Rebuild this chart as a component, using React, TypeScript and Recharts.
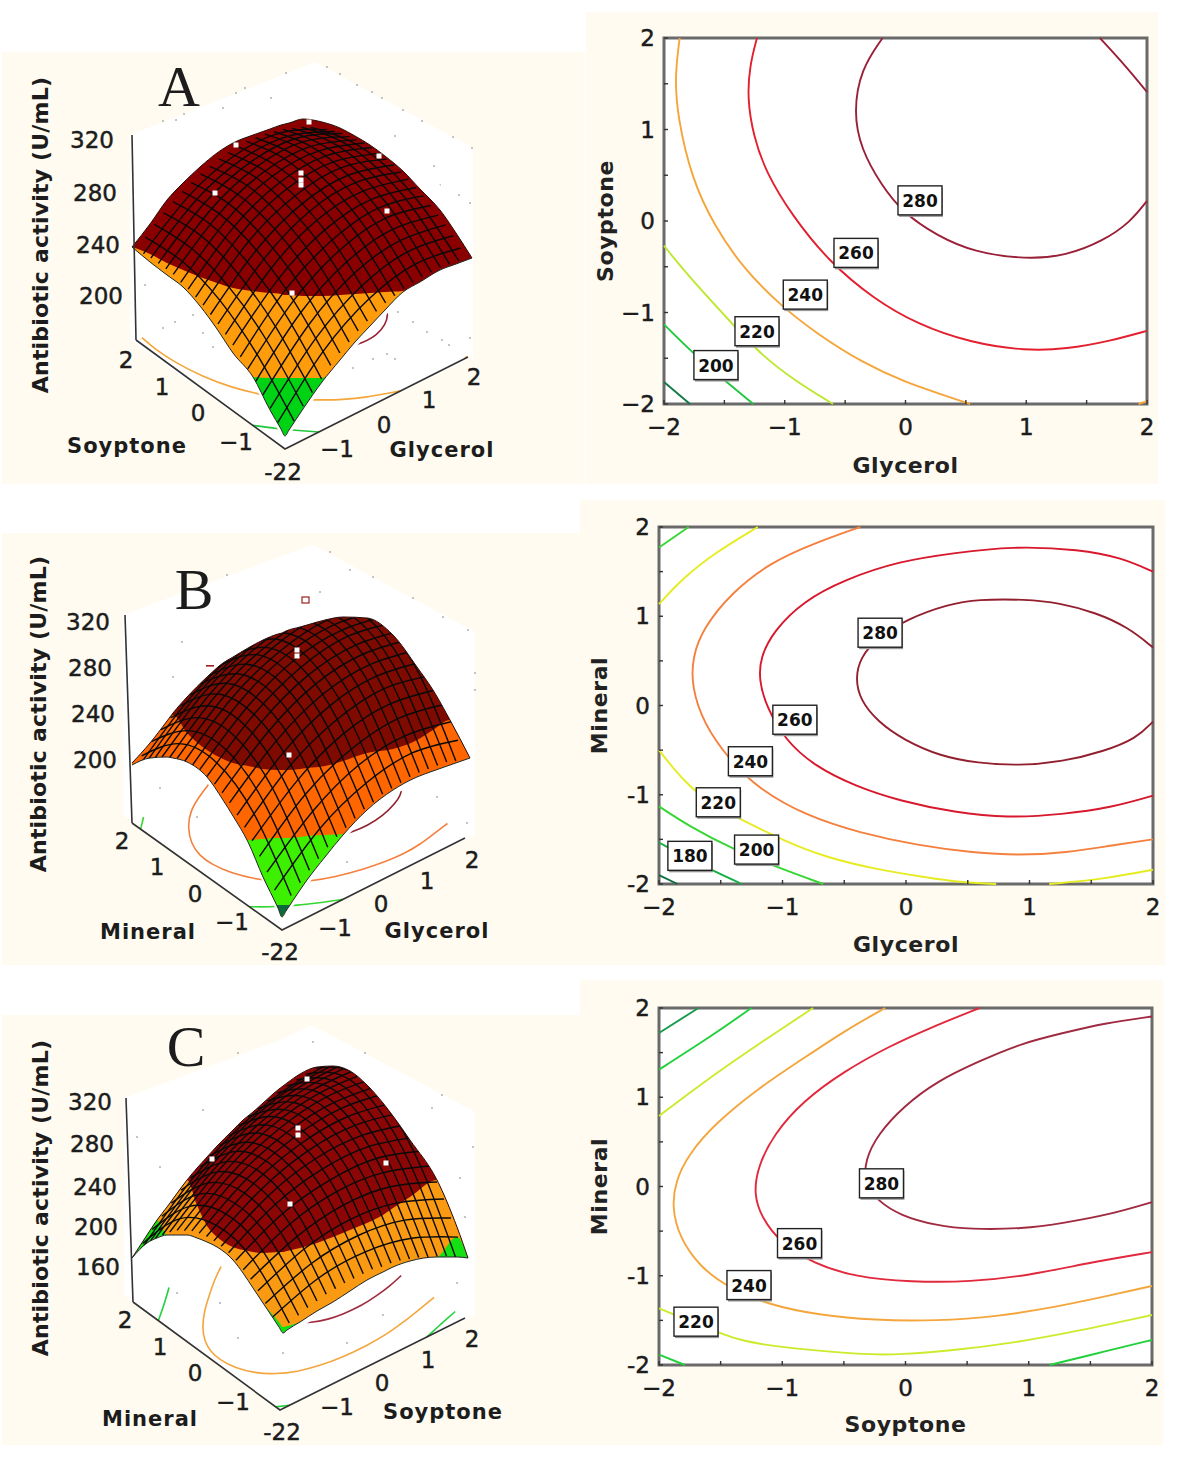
import React from "react";
import {
  Area,
  ComposedChart,
  Line,
  ReferenceArea,
  ReferenceDot,
  Scatter,
  XAxis,
  YAxis,
} from "recharts";

type Pt = [number, number];

const FONT = '"DejaVu Sans", sans-serif';
const CREAM = "#FFFBF0";

// ---- contour lines (factor units) ----
const A_CONTOURS: { level: number; pts: Pt[] }[] = [
  { level: 280, pts: [[-0.19, 2], [-0.37, 1.66], [-0.43, 1.19], [-0.37, 0.79], [-0.2, 0.39], [-0.02, 0.09], [0.26, -0.16], [0.565, -0.34], [1, -0.42], [1.33, -0.38], [1.64, -0.215], [1.86, -0.015], [2, 0.22]] },
  { level: 280, pts: [[1.61, 2], [1.82, 1.7], [2, 1.41]] },
  { level: 260, pts: [[-1.23, 2], [-1.29, 1.7], [-1.31, 1.34], [-1.26, 0.93], [-1.155, 0.53], [-0.94, 0.06], [-0.63, -0.45], [-0.264, -0.85], [0.1, -1.13], [0.535, -1.33], [1, -1.42], [1.33, -1.4], [1.7, -1.31], [2, -1.2]] },
  { level: 240, pts: [[-1.87, 2], [-1.91, 1.59], [-1.89, 1.15], [-1.77, 0.46], [-1.585, -0.05], [-1.34, -0.525], [-1.03, -0.93], [-0.725, -1.24], [-0.356, -1.55], [0.012, -1.77], [0.29, -1.89], [0.535, -2]] },
  { level: 240, pts: [[1.93, -2], [2, -1.97]] },
  { level: 220, pts: [[-2, -0.27], [-1.8, -0.6], [-1.43, -1.13], [-1.19, -1.47], [-0.91, -1.75], [-0.6, -2]] },
  { level: 200, pts: [[-2, -1.13], [-1.74, -1.47], [-1.49, -1.75], [-1.26, -2]] },
  { level: 180, pts: [[-2, -1.76], [-1.785, -2]] },
];
const B_CONTOURS: { level: number; pts: Pt[] }[] = [
  { level: 280, pts: [[2, 0.65], [1.8, 0.875], [1.54, 1.04], [1.24, 1.15], [0.97, 1.19], [0.58, 1.19], [0.34, 1.135], [0.01, 0.97], [-0.23, 0.76], [-0.37, 0.54], [-0.41, 0.3], [-0.37, 0.06], [-0.23, -0.18], [-0.02, -0.385], [0.28, -0.57], [0.58, -0.645], [0.91, -0.675], [1.27, -0.63], [1.6, -0.515], [1.865, -0.37], [2, -0.18]] },
  { level: 260, pts: [[2, 1.5], [1.745, 1.655], [1.415, 1.75], [0.85, 1.785], [0.4, 1.71], [-0.05, 1.62], [-0.5, 1.41], [-0.83, 1.17], [-1.07, 0.84], [-1.18, 0.54], [-1.19, 0.28], [-1.13, -0.015], [-0.98, -0.385], [-0.74, -0.68], [-0.41, -0.905], [-0.05, -1.07], [0.4, -1.2], [0.82, -1.26], [1.27, -1.22], [1.66, -1.145], [2, -1.01]] },
  { level: 240, pts: [[-0.37, 2], [-0.74, 1.82], [-1.1, 1.6], [-1.4, 1.28], [-1.64, 0.875], [-1.73, 0.54], [-1.735, 0.21], [-1.64, -0.2], [-1.43, -0.61], [-1.19, -0.94], [-0.8, -1.24], [-0.38, -1.425], [0.1, -1.57], [0.55, -1.65], [0.91, -1.68], [1.3, -1.65], [1.655, -1.57], [2, -1.5]] },
  { level: 220, pts: [[-1.2, 2], [-1.55, 1.71], [-1.82, 1.41], [-2, 1.135]] },
  { level: 220, pts: [[-2, -0.5], [-1.79, -0.87], [-1.55, -1.13], [-1.28, -1.315], [-0.98, -1.52], [-0.65, -1.7], [-0.26, -1.83], [0.16, -1.925], [0.43, -1.98], [0.73, -2]] },
  { level: 220, pts: [[1.16, -2], [1.6, -1.945], [2, -1.84]] },
  { level: 200, pts: [[-1.76, 2], [-2, 1.77]] },
  { level: 200, pts: [[-2, -1.13], [-1.76, -1.35], [-1.4, -1.61], [-1.04, -1.815], [-0.67, -2]] },
  { level: 180, pts: [[-2, -1.535], [-1.7, -1.76], [-1.33, -2]] },
  { level: 160, pts: [[-2, -1.9], [-1.85, -2]] },
];
const C_CONTOURS: { level: number; pts: Pt[] }[] = [
  { level: 280, pts: [[2, 1.905], [1.61, 1.83], [1.28, 1.72], [0.95, 1.61], [0.59, 1.4], [0.255, 1.18], [-0.015, 0.9], [-0.225, 0.585], [-0.33, 0.29], [-0.33, 0.03], [-0.225, -0.16], [-0.045, -0.325], [0.255, -0.44], [0.525, -0.48], [0.95, -0.475], [1.28, -0.41], [1.67, -0.31], [2, -0.175]] },
  { level: 260, pts: [[0.6, 2], [0.195, 1.775], [-0.135, 1.57], [-0.5, 1.29], [-0.83, 0.96], [-1.07, 0.585], [-1.2, 0.215], [-1.23, -0.085], [-1.17, -0.345], [-1.01, -0.64], [-0.74, -0.865], [-0.41, -1.015], [0.045, -1.07], [0.525, -1.07], [1.01, -0.995], [1.52, -0.845], [2, -0.735]] },
  { level: 240, pts: [[-0.165, 2], [-0.5, 1.74], [-0.86, 1.405], [-1.19, 1.105], [-1.55, 0.7], [-1.76, 0.36], [-1.865, 0.065], [-1.895, -0.23], [-1.835, -0.57], [-1.67, -0.9], [-1.43, -1.14], [-1.1, -1.33], [-0.705, -1.44], [-0.255, -1.5], [0.255, -1.505], [0.735, -1.46], [1.22, -1.35], [1.61, -1.235], [2, -1.115]] },
  { level: 220, pts: [[-0.75, 2], [-1.1, 1.68], [-1.4, 1.4], [-1.7, 1.105], [-2, 0.79]] },
  { level: 220, pts: [[-2, -1.365], [-1.7, -1.535], [-1.34, -1.74], [-0.95, -1.81], [-0.345, -1.885], [-0.045, -1.885], [0.435, -1.83], [0.855, -1.755], [1.31, -1.645], [2, -1.44]] },
  { level: 200, pts: [[-1.25, 2], [-1.58, 1.68], [-2, 1.31]] },
  { level: 200, pts: [[1.17, -2], [1.61, -1.85], [2, -1.72]] },
  { level: 200, pts: [[-2, -1.885], [-1.79, -2]] },
  { level: 180, pts: [[-1.68, 2], [-2, 1.72]] },
];

const A_LABELS: [number, number, number][] = [[280, 0.12, 0.22], [260, -0.41, -0.354], [240, -0.83, -0.81], [220, -1.23, -1.21], [200, -1.57, -1.58]];
const B_LABELS: [number, number, number][] = [[280, -0.21, 0.81], [260, -0.9, -0.165], [240, -1.26, -0.63], [220, -1.52, -1.09], [200, -1.21, -1.62], [180, -1.75, -1.69]];
const C_LABELS: [number, number, number][] = [[280, -0.195, 0.03], [260, -0.86, -0.64], [240, -1.27, -1.11], [220, -1.7, -1.52]];

const AXIS_TICKS = [-2, -1.5, -1, -0.5, 0, 0.5, 1, 1.5, 2];

// ---- response surfaces: activity (U/mL) along the mesh lines ----
const MESH_STEPS = [-1.8, -1.6, -1.4, -1.2, -1, -0.8, -0.6, -0.4, -0.2, 0, 0.2, 0.4, 0.6, 0.8, 1, 1.2, 1.4, 1.6, 1.8];
const MESH_NODES = [-2, -1, 0, 1, 2];

const A_ALONG_SECOND = [
  [181, 212, 233, 242, 240], [189, 220, 240, 249, 247], [196, 227, 247, 256, 253], [203, 234, 253, 262, 259],
  [210, 240, 259, 267, 264], [216, 246, 264, 272, 268], [221, 251, 269, 276, 272], [226, 255, 273, 280, 275],
  [230, 259, 276, 283, 278], [234, 262, 279, 285, 280], [237, 265, 282, 287, 282], [239, 267, 283, 289, 283],
  [241, 268, 284, 289, 283], [242, 269, 285, 290, 283], [243, 270, 285, 289, 282], [243, 270, 285, 288, 281],
  [243, 269, 284, 287, 279], [242, 268, 282, 285, 277], [241, 266, 280, 282, 274],
];
const A_ALONG_FIRST = [
  [179, 217, 240, 249, 244], [186, 223, 246, 255, 250], [192, 229, 252, 260, 255], [198, 235, 257, 265, 259],
  [204, 240, 262, 270, 263], [209, 245, 266, 274, 267], [214, 249, 270, 277, 270], [218, 253, 274, 280, 273],
  [222, 256, 277, 283, 275], [225, 259, 279, 285, 277], [228, 262, 281, 287, 278], [230, 264, 283, 288, 279],
  [232, 265, 284, 289, 280], [233, 266, 285, 289, 280], [235, 267, 285, 289, 279], [235, 267, 285, 289, 278],
  [235, 267, 284, 288, 277], [235, 266, 283, 286, 275], [234, 265, 282, 285, 273],
];
const B_ALONG_SECOND = [
  [171, 219, 240, 233, 199], [178, 226, 247, 240, 207], [185, 233, 254, 247, 213], [191, 239, 260, 253, 219],
  [197, 245, 265, 259, 225], [202, 250, 270, 264, 230], [206, 254, 275, 268, 235], [210, 258, 279, 272, 238],
  [214, 261, 282, 276, 242], [216, 264, 285, 278, 245], [219, 266, 287, 281, 247], [220, 268, 289, 282, 249],
  [221, 269, 290, 283, 250], [222, 270, 291, 284, 250], [222, 270, 291, 284, 250], [221, 269, 290, 283, 250],
  [220, 268, 289, 282, 249], [219, 266, 287, 281, 247], [216, 264, 285, 278, 245],
];
const B_ALONG_FIRST = [
  [175, 209, 228, 234, 225], [186, 219, 239, 244, 236], [195, 229, 248, 254, 246], [204, 237, 257, 262, 254],
  [211, 245, 264, 270, 261], [217, 251, 271, 276, 268], [223, 256, 276, 281, 273], [227, 260, 280, 285, 277],
  [230, 263, 283, 288, 280], [232, 265, 285, 291, 282], [233, 266, 286, 291, 283], [232, 266, 286, 291, 283],
  [231, 265, 284, 290, 281], [229, 262, 282, 288, 279], [225, 259, 278, 284, 276], [221, 254, 274, 279, 271],
  [215, 249, 268, 274, 265], [208, 242, 261, 267, 259], [200, 234, 254, 259, 251],
];
const C_ALONG_SECOND = [
  [199, 235, 242, 222, 172], [202, 240, 249, 230, 182], [205, 244, 255, 238, 191], [207, 248, 261, 245, 200],
  [209, 252, 266, 252, 209], [210, 255, 271, 258, 217], [211, 257, 275, 264, 224], [211, 259, 278, 269, 231],
  [211, 261, 281, 274, 237], [211, 262, 284, 278, 243], [209, 262, 286, 282, 249], [208, 262, 288, 285, 254],
  [206, 262, 289, 288, 258], [203, 261, 290, 290, 262], [200, 259, 290, 292, 266], [196, 257, 290, 294, 269],
  [192, 255, 289, 294, 271], [188, 252, 288, 295, 273], [182, 248, 286, 295, 275],
];
const C_ALONG_FIRST = [
  [204, 220, 223, 214, 193], [212, 229, 234, 227, 207], [219, 238, 245, 239, 221], [225, 245, 254, 250, 233],
  [229, 252, 262, 259, 244], [233, 257, 268, 268, 254], [235, 261, 274, 275, 263], [236, 264, 279, 281, 271],
  [236, 265, 282, 286, 278], [235, 266, 284, 290, 283], [233, 265, 285, 293, 288], [230, 264, 285, 294, 291],
  [225, 261, 284, 295, 293], [220, 257, 282, 294, 294], [213, 252, 278, 292, 294], [205, 245, 273, 289, 293],
  [196, 238, 268, 285, 290], [185, 229, 261, 280, 286], [174, 220, 253, 273, 282],
];

// ---- outlines and colour zones of the surfaces as seen in the picture ----
const A_X = [132, 150, 167, 183, 200, 217, 233, 253, 270, 281, 285, 289, 303, 322, 340, 355, 370, 385, 403, 420, 440, 456, 472];
const A_TOP = [247, 224, 200, 183, 167, 153, 143, 135, 129, 125, 124, 123, 119, 122, 128, 136, 145, 156, 171, 189, 210, 233, 258];
const A_BOTTOM = [247, 262, 275, 287, 306, 329, 353, 377, 410, 429, 436, 430, 409, 382, 360, 342, 326, 310, 292, 282, 270, 264, 258];
const A_RED = [247, 254, 263, 270, 277, 283, 288, 291, 293, 294, 295, 295, 296, 296, 295, 294, 293, 292, 291, 291, 291, 291, 291];
const A_MID = [378, 378, 378, 378, 378, 378, 378, 378, 378, 378, 378, 378, 378, 378, 378, 378, 378, 378, 378, 378, 378, 378, 378];

const B_X = [132, 150, 167, 173, 187, 207, 223, 233, 248, 263, 278, 282, 286, 300, 307, 325, 343, 367, 393, 417, 433, 450, 470];
const B_TOP = [763, 743, 721, 713, 697, 677, 663, 657, 648, 640, 634, 633, 631, 627, 625, 620, 617, 618, 635, 667, 690, 720, 758];
const B_BOTTOM = [765, 758, 757, 758, 762, 777, 800, 816, 842, 877, 908, 917, 911, 890, 880, 857, 835, 810, 790, 777, 771, 765, 758];
const B_RED = [763, 743, 721, 715, 733, 750, 759, 763, 766, 769, 770, 770, 770, 769, 768, 766, 761, 753, 749, 740, 730, 720, 758];
const B_MID = [840, 840, 840, 840, 840, 840, 840, 840, 840, 839, 838, 838, 838, 837, 836, 835, 834, 834, 834, 834, 834, 834, 834];
const B_TIP: { x: number; lo: number; hi: number }[] = [{ x: 276, lo: 905, hi: 905 }, { x: 282, lo: 917, hi: 905 }, { x: 290, lo: 905, hi: 905 }];

const C_X = [132, 147, 157, 167, 187, 197, 207, 217, 233, 243, 253, 263, 279, 283, 287, 300, 317, 333, 350, 367, 383, 393, 410, 437, 457, 468];
const C_TOP = [1258, 1235, 1220, 1207, 1180, 1168, 1157, 1146, 1130, 1120, 1112, 1103, 1089, 1086, 1083, 1074, 1067, 1066, 1071, 1085, 1103, 1116, 1140, 1180, 1227, 1258];
const C_BOTTOM = [1258, 1243, 1238, 1235, 1235, 1238, 1242, 1247, 1260, 1273, 1288, 1303, 1327, 1333, 1330, 1322, 1311, 1302, 1291, 1280, 1272, 1267, 1261, 1257, 1257, 1258];
const C_RED = [1258, 1235, 1220, 1207, 1180, 1205, 1226, 1237, 1247, 1250, 1252, 1253, 1252, 1252, 1251, 1248, 1243, 1237, 1230, 1223, 1215, 1208, 1197, 1180, 1227, 1258];
const C_MID = [1258, 1235, 1220, 1235, 1235, 1238, 1242, 1247, 1260, 1273, 1288, 1303, 1322, 1327, 1326, 1322, 1311, 1302, 1291, 1280, 1272, 1267, 1261, 1257, 1237, 1258];

const A_WALL = [{ x: 130, lo: 340, hi: 135 }, { x: 285, lo: 449, hi: 74 }, { x: 315, lo: 434, hi: 62 }, { x: 473, lo: 357, hi: 148 }];
const B_WALL = [{ x: 123, lo: 815, hi: 615 }, { x: 282, lo: 930, hi: 556 }, { x: 313, lo: 915, hi: 545 }, { x: 475, lo: 835, hi: 632 }];
const C_WALL = [{ x: 124, lo: 1295, hi: 1098 }, { x: 280, lo: 1410, hi: 1040 }, { x: 312, lo: 1395, hi: 1025 }, { x: 475, lo: 1315, hi: 1112 }];

const A_POINTS: Pt[] = [[236, 145], [215, 193], [309, 122], [301, 173], [301, 180], [301, 185], [379, 156], [387, 211], [292, 293]];
const B_POINTS: Pt[] = [[297, 650], [297, 656], [289, 755]];
const C_POINTS: Pt[] = [[307, 1079], [298, 1128], [298, 1135], [212, 1159], [386, 1163], [290, 1204]];

// faint dots of the box grid
const A_SPECKS: Pt[] = [[163, 121], [176, 120], [184, 114], [223, 108], [236, 93], [245, 88], [271, 98], [286, 73], [315, 97], [315, 105], [327, 67], [340, 74], [357, 85], [372, 92], [382, 98], [403, 110], [422, 121], [395, 136], [453, 137], [472, 148], [434, 166], [440, 185], [459, 195], [470, 203], [145, 285], [163, 328], [175, 322], [193, 315], [203, 333], [213, 347], [398, 312], [413, 322], [427, 332], [442, 340], [449, 345], [470, 338], [353, 368], [373, 359], [387, 354], [395, 359]];
const B_SPECKS: Pt[] = [[227, 575], [320, 592], [330, 552], [350, 570], [373, 577], [413, 598], [443, 617], [468, 630], [475, 673], [475, 690], [465, 737], [437, 797], [347, 862], [467, 823], [197, 817], [160, 788], [173, 677], [182, 642]];
const C_SPECKS: Pt[] = [[203, 1110], [238, 1053], [257, 1088], [313, 1042], [365, 1053], [383, 1087], [432, 1108], [442, 1095], [473, 1147], [460, 1178], [465, 1217], [457, 1283], [383, 1315], [347, 1343], [238, 1338], [283, 1353], [137, 1137], [160, 1167], [177, 1293], [220, 1303]];

type Cam = {
  near: Pt; left: Pt; right: Pt; back: Pt; k: number; z0: number;
};
const A_CAM: Cam = { near: [285, 449], left: [136, 340], right: [468, 357], back: [320, 267], k: 1.29, z0: 163 };
const B_CAM: Cam = { near: [282, 930], left: [132, 823], right: [465, 838], back: [325, 722], k: 1.15, z0: 145 };
const C_CAM: Cam = { near: [280, 1410], left: [133, 1302], right: [465, 1318], back: [325, 1225], k: 1.03, z0: 119 };

// oblique view used by the statistics package: factor, factor, activity -> picture
function project(cam: Cam, a: number, b: number, z: number) {
  const u = (a + 2) / 4;
  const v = (b + 2) / 4;
  const mix = (i: 0 | 1) =>
    (1 - u) * (1 - v) * cam.near[i] + u * (1 - v) * cam.right[i] + (1 - u) * v * cam.left[i] + u * v * cam.back[i];
  return { x: mix(0), y: mix(1) - cam.k * (z - cam.z0) };
}

function levelColor(level: number, tint: Record<number, string>) {
  return tint[level] || "#888";
}

const A_TINT: Record<number, string> = { 280: "#9A2038", 260: "#E2202F", 240: "#F5A53A", 220: "#BDE82E", 200: "#22C83C", 180: "#117A46" };
const B_TINT: Record<number, string> = { 280: "#93202F", 260: "#D8182C", 240: "#F4803E", 220: "#E6EC22", 200: "#38D632", 180: "#14B044", 160: "#0E6E40" };
const C_TINT: Record<number, string> = { 280: "#A02A40", 260: "#E2283C", 240: "#F4A63E", 220: "#CBEB2C", 200: "#22D03C", 180: "#1A9A4C" };

function say(key: string, x: number, y: number, text: string, size = 23, weight: any = "normal", rotate = 0, family = FONT, spacing = 0) {
  const heavy = family === FONT && weight === "normal";
  return (
    <ReferenceDot
      key={key}
      x={x}
      y={y}
      r={0}
      fill="none"
      stroke="none"
      ifOverflow="visible"
      shape={(p: any) => (
        <text
          x={p.cx}
          y={p.cy}
          textAnchor="middle"
          dominantBaseline="central"
          fontFamily={family}
          fontSize={size}
          fontWeight={weight}
          letterSpacing={spacing}
          fill="#1c1c1c"
          stroke={heavy ? "#1c1c1c" : "none"}
          strokeWidth={heavy ? 0.45 : 0}
          transform={rotate ? `rotate(${rotate} ${p.cx} ${p.cy})` : undefined}
        >
          {text}
        </text>
      )}
    />
  );
}

function bandOf(xs: number[], lo: number[], hi: number[]) {
  return xs.map((x, i) => ({ x, band: [lo[i], hi[i]] }));
}

type SurfaceProps = {
  top: number; height: number; cam: Cam; wall: { x: number; lo: number; hi: number }[];
  contours: { level: number; pts: Pt[] }[]; tint: Record<number, string>;
  alongSecond: number[][]; alongFirst: number[][];
  xs: number[]; tops: number[]; bottoms: number[]; reds: number[]; mids: number[];
  colors: { red: string; orange: string; green: string }; tip?: { x: number; lo: number; hi: number }[];
  points: Pt[]; specks: Pt[]; words: React.ReactNode[]; marks?: React.ReactNode[];
};

function Surface(p: SurfaceProps) {
  const floorLevels = p.contours.filter((c) => c.level === 200 || c.level === 240 || c.level === 280);
  const near = p.cam.near;
  return (
    <ComposedChart width={585} height={p.height} margin={{ top: 0, right: 0, bottom: 0, left: 0 }} style={{ position: "absolute", left: 0, top: p.top }}>
      <XAxis dataKey="x" type="number" domain={[0, 585]} hide />
      <YAxis dataKey="y" type="number" domain={[p.top, p.top + p.height]} reversed hide />

      <Area data={p.wall.map((w) => ({ x: w.x, band: [w.lo, w.hi] }))} dataKey="band" type="linear" stroke="none" fill="#fff" fillOpacity={1} isAnimationActive={false} dot={false} activeDot={false} {...{ zIndex: 10 }} />
      <Scatter
        data={p.specks.map(([x, y]) => ({ x, y }))}
        dataKey="y"
        isAnimationActive={false}
        {...{ zIndex: 15 }}
        shape={(s: any) => <rect x={s.cx - 1} y={s.cy - 1} width={2} height={2} fill="#c4c4c4" />}
      />
      {floorLevels.map((c, i) => (
        <Line key={"floor" + i} data={c.pts.map(([a, b]) => project(p.cam, a, b, p.cam.z0))} dataKey="y" type="basis" stroke={levelColor(c.level, p.tint)} strokeWidth={1.6} dot={false} activeDot={false} isAnimationActive={false} {...{ zIndex: 20 }} />
      ))}

      <Area data={bandOf(p.xs, p.bottoms, p.tops)} dataKey="band" type="monotone" stroke="none" fill={p.colors.green} fillOpacity={1} isAnimationActive={false} dot={false} activeDot={false} {...{ zIndex: 100 }} />
      <Area data={bandOf(p.xs, p.mids.map((m, i) => Math.min(m, p.bottoms[i])), p.tops)} dataKey="band" type="monotone" stroke="none" fill={p.colors.orange} fillOpacity={1} isAnimationActive={false} dot={false} activeDot={false} {...{ zIndex: 101 }} />
      <Area data={bandOf(p.xs, p.reds.map((m, i) => Math.min(m, p.bottoms[i])), p.tops)} dataKey="band" type="monotone" stroke="none" fill={p.colors.red} fillOpacity={1} isAnimationActive={false} dot={false} activeDot={false} {...{ zIndex: 102 }} />
      {p.tip && (
        <Area data={p.tip.map((w) => ({ x: w.x, band: [w.lo, w.hi] }))} dataKey="band" type="linear" stroke="none" fill="#0B6B3A" fillOpacity={1} isAnimationActive={false} dot={false} activeDot={false} {...{ zIndex: 103 }} />
      )}

      {p.alongSecond.map((row, i) => (
        <Line key={"ms" + i} data={row.map((z, k) => project(p.cam, MESH_STEPS[i], MESH_NODES[k], z))} dataKey="y" type="natural" stroke="#0a0a0a" strokeWidth={1.4} dot={false} activeDot={false} isAnimationActive={false} />
      ))}
      {p.alongFirst.map((row, i) => (
        <Line key={"mf" + i} data={row.map((z, k) => project(p.cam, MESH_NODES[k], MESH_STEPS[i], z))} dataKey="y" type="natural" stroke="#0a0a0a" strokeWidth={1.4} dot={false} activeDot={false} isAnimationActive={false} />
      ))}

      {/* white masks so mesh lines stop at the visible edge of the surface */}
      <Area data={bandOf(p.xs, p.tops, p.tops.map((t) => t - 25))} dataKey="band" type="monotone" stroke="none" fill="#fff" fillOpacity={1} isAnimationActive={false} dot={false} activeDot={false} {...{ zIndex: 450 }} />
      <Area data={bandOf(p.xs, p.bottoms.map((t) => t + 6), p.bottoms)} dataKey="band" type="monotone" stroke="none" fill="#fff" fillOpacity={1} isAnimationActive={false} dot={false} activeDot={false} {...{ zIndex: 451 }} />
      <Line data={p.xs.map((x, i) => ({ x, y: p.tops[i] }))} dataKey="y" type="monotone" stroke="#2a0a0a" strokeWidth={1} dot={false} activeDot={false} isAnimationActive={false} {...{ zIndex: 460 }} />
      <Line data={p.xs.map((x, i) => ({ x, y: p.bottoms[i] }))} dataKey="y" type="monotone" stroke="#222" strokeWidth={1} dot={false} activeDot={false} isAnimationActive={false} {...{ zIndex: 461 }} />

      {/* axes of the box */}
      <Line data={[{ x: p.wall[0].x + 2, y: p.wall[0].hi }, { x: p.cam.left[0], y: p.cam.left[1] }]} dataKey="y" type="linear" stroke="#333" strokeWidth={1.6} dot={false} activeDot={false} isAnimationActive={false} {...{ zIndex: 470 }} />
      <Line data={[{ x: p.cam.left[0], y: p.cam.left[1] }, { x: near[0], y: near[1] }, { x: p.cam.right[0], y: p.cam.right[1] }]} dataKey="y" type="linear" stroke="#333" strokeWidth={1.6} dot={false} activeDot={false} isAnimationActive={false} {...{ zIndex: 471 }} />

      <Scatter
        data={p.points.map(([x, y]) => ({ x, y }))}
        dataKey="y"
        isAnimationActive={false}
        shape={(s: any) => <rect x={s.cx - 2.5} y={s.cy - 2.5} width={5} height={5} fill="#fff" />}
      />
      {p.marks}
      {p.words}
    </ComposedChart>
  );
}

type ContourProps = {
  left: number; top: number; width: number; height: number; yWidth: number; right: number; upper: number; xHeight: number;
  contours: { level: number; pts: Pt[] }[]; tint: Record<number, string>; labels: [number, number, number][];
  xName: string; yName: string; xTitleOffset: number; yDash: string;
};

function XTick({ x, y, payload, inward, showText }: any) {
  const v = payload.value;
  return (
    <g>
      <line x1={x} x2={x} y1={y} y2={y + inward} stroke="#333" strokeWidth={1.4} />
      {showText && Number.isInteger(v) && (
        <text x={x} y={y + 23} textAnchor="middle" dominantBaseline="central" fontFamily={FONT} fontSize={23} fill="#1c1c1c" stroke="#1c1c1c" strokeWidth={0.45}>
          {String(v).replace("-", "\u2212")}
        </text>
      )}
    </g>
  );
}

function YTick({ x, y, payload, inward, showText, dash }: any) {
  const v = payload.value;
  return (
    <g>
      <line x1={x} x2={x + inward} y1={y} y2={y} stroke="#333" strokeWidth={1.4} />
      {showText && Number.isInteger(v) && (
        <text x={x - 9} y={y} textAnchor="end" dominantBaseline="central" fontFamily={FONT} fontSize={23} fill="#1c1c1c" stroke="#1c1c1c" strokeWidth={0.45}>
          {String(v).replace("-", dash)}
        </text>
      )}
    </g>
  );
}

function Contour(p: ContourProps) {
  const titleStyle = { fontFamily: FONT, fontSize: 22, fontWeight: 700, fill: "#222", letterSpacing: 0.6 };
  return (
    <ComposedChart
      width={p.width}
      height={p.height}
      margin={{ top: p.upper, right: p.right, bottom: 0, left: 0 }}
      style={{ position: "absolute", left: p.left, top: p.top }}
    >
      <XAxis
        dataKey="x"
        type="number"
        domain={[-2, 2]}
        ticks={AXIS_TICKS}
        interval={0}
        height={p.xHeight}
        axisLine={false}
        tickLine={false}
        tickSize={0}
        tickMargin={0}
        tick={(t: any) => <XTick {...t} inward={-4} showText />}
        label={{ value: p.xName, position: "insideBottom", offset: p.xTitleOffset, style: titleStyle }}
      />
      <XAxis xAxisId="t" orientation="top" dataKey="x" type="number" domain={[-2, 2]} ticks={AXIS_TICKS} interval={0} height={0} axisLine={false} tickLine={false} tickSize={0} tickMargin={0} tick={(t: any) => <XTick {...t} inward={4} />} />
      <YAxis
        dataKey="y"
        type="number"
        domain={[-2, 2]}
        ticks={AXIS_TICKS}
        interval={0}
        width={p.yWidth}
        axisLine={false}
        tickLine={false}
        tickSize={0}
        tickMargin={0}
        tick={(t: any) => <YTick {...t} inward={4} showText dash={p.yDash} />}
        label={{ value: p.yName, angle: -90, position: "insideLeft", offset: 19, style: { ...titleStyle, textAnchor: "middle" } }}
      />
      <YAxis yAxisId="r" orientation="right" dataKey="y" type="number" domain={[-2, 2]} ticks={AXIS_TICKS} interval={0} width={0} axisLine={false} tickLine={false} tickSize={0} tickMargin={0} tick={(t: any) => <YTick {...t} inward={-4} />} />

      <ReferenceArea x1={-2} x2={2} y1={-2} y2={2} fill="#fff" fillOpacity={1} stroke="#6a6a6a" strokeWidth={3} ifOverflow="visible" />

      {p.contours.map((c, i) => (
        <Line
          key={i}
          data={c.pts.map(([x, y]) => ({ x, y }))}
          dataKey="y"
          type="basis"
          stroke={levelColor(c.level, p.tint)}
          strokeWidth={1.9}
          dot={false}
          activeDot={false}
          isAnimationActive={false}
        />
      ))}

      {p.labels.map(([level, x, y]) => (
        <ReferenceDot
          key={level}
          x={x}
          y={y}
          r={0}
          ifOverflow="visible"
          isFront
          {...{ zIndex: 700 }}
          shape={(s: any) => (
            <g>
              <rect x={s.cx - 21} y={s.cy - 13} width={44} height={29} fill="#999" />
              <rect x={s.cx - 22} y={s.cy - 15} width={44} height={29} fill="#fff" stroke="#222" strokeWidth={1.4} />
              <text x={s.cx} y={s.cy} textAnchor="middle" dominantBaseline="central" fontFamily={FONT} fontSize={17} fontWeight={700} fill="#111">
                {level}
              </text>
            </g>
          )}
        />
      ))}
    </ComposedChart>
  );
}

const PANELS = [
  { left: 2, top: 52, width: 583, height: 432 },
  { left: 586, top: 12, width: 572, height: 472 },
  { left: 2, top: 533, width: 578, height: 432 },
  { left: 580, top: 500, width: 585, height: 465 },
  { left: 2, top: 1015, width: 578, height: 430 },
  { left: 580, top: 980, width: 583, height: 465 },
];

const Z_TITLE = "Antibiotic activity (U/mL)";
const SERIF = '"Liberation Serif", serif';

const A_WORDS = [
  say("a", 179, 86, "A", 58, "normal", 0, SERIF),
  say("z", 40, 235, Z_TITLE, 22, 700, -90, FONT, 0.2),
  say("z320", 92, 140, "320"), say("z280", 95, 193, "280"), say("z240", 98, 245, "240"), say("z200", 101, 296, "200"),
  say("l2", 126, 360, "2"), say("l1", 162, 387, "1"), say("l0", 198, 413, "0"), say("lm1", 236, 442, "\u22121"), say("lm2", 283, 472, "-22"),
  say("r1", 337, 449, "\u22121"), say("r0", 384, 425, "0"), say("r1b", 429, 400, "1"), say("r2", 474, 377, "2"),
  say("sn", 127, 446, "Soyptone", 21, 700, 0, FONT, 1), say("gn", 442, 450, "Glycerol", 21, 700, 0, FONT, 1),
];
const B_WORDS = [
  say("b", 194, 589, "B", 58, "normal", 0, SERIF),
  say("z", 38, 714, Z_TITLE, 22, 700, -90, FONT, 0.2),
  say("z320", 88, 622, "320"), say("z280", 90, 668, "280"), say("z240", 93, 714, "240"), say("z200", 95, 760, "200"),
  say("l2", 122, 841, "2"), say("l1", 157, 867, "1"), say("l0", 195, 894, "0"), say("lm1", 232, 922, "\u22121"), say("lm2", 280, 952, "-22"),
  say("r1", 335, 928, "\u22121"), say("r0", 381, 904, "0"), say("r1b", 427, 881, "1"), say("r2", 472, 860, "2"),
  say("mn", 148, 932, "Mineral", 21, 700, 0, FONT, 1), say("gn", 437, 931, "Glycerol", 21, 700, 0, FONT, 1),
];
const C_WORDS = [
  say("c", 186, 1046, "C", 58, "normal", 0, SERIF),
  say("z", 40, 1198, Z_TITLE, 22, 700, -90, FONT, 0.2),
  say("z320", 90, 1102, "320"), say("z280", 92, 1144, "280"), say("z240", 95, 1187, "240"), say("z200", 96, 1227, "200"), say("z160", 98, 1267, "160"),
  say("l2", 125, 1320, "2"), say("l1", 160, 1347, "1"), say("l0", 195, 1373, "0"), say("lm1", 233, 1402, "\u22121"), say("lm2", 282, 1432, "-22"),
  say("r1", 337, 1407, "\u22121"), say("r0", 382, 1383, "0"), say("r1b", 428, 1360, "1"), say("r2", 472, 1339, "2"),
  say("mn", 150, 1419, "Mineral", 21, 700, 0, FONT, 1), say("sn", 443, 1412, "Soyptone", 21, 700, 0, FONT, 1),
];

// two stray design points in panel B that sit off the surface
const B_MARKS = [
  <ReferenceDot key="m1" x={305} y={600} r={0} ifOverflow="visible" shape={(s: any) => <rect x={s.cx - 3} y={s.cy - 3} width={7} height={6} fill="#fff" stroke="#A02020" strokeWidth={1.2} />} />,
  <ReferenceDot key="m2" x={210} y={666} r={0} ifOverflow="visible" shape={(s: any) => <rect x={s.cx - 4} y={s.cy - 1} width={8} height={1.6} fill="#A02020" />} />,
];

export default function App() {
  return (
    <div style={{ position: "absolute", left: 0, top: 0, width: 1200, height: 1461, background: "#fff", overflow: "hidden" }}>
      {PANELS.map((b, i) => (
        <div key={i} style={{ position: "absolute", ...b, background: CREAM }} />
      ))}

      <Surface
        top={50} height={440} cam={A_CAM} wall={A_WALL} contours={A_CONTOURS} tint={A_TINT}
        alongSecond={A_ALONG_SECOND} alongFirst={A_ALONG_FIRST}
        xs={A_X} tops={A_TOP} bottoms={A_BOTTOM} reds={A_RED} mids={A_MID}
        colors={{ red: "#8A0000", orange: "#FF9C0C", green: "#00D214" }}
        points={A_POINTS} specks={A_SPECKS} words={A_WORDS}
      />
      <Contour
        left={586} top={12} width={572} height={472} yWidth={78} right={11} upper={26} xHeight={80}
        contours={A_CONTOURS} tint={A_TINT} labels={A_LABELS} xName="Glycerol" yName="Soyptone" xTitleOffset={11} yDash={"\u2212"}
      />

      <Surface
        top={530} height={440} cam={B_CAM} wall={B_WALL} contours={B_CONTOURS} tint={B_TINT}
        alongSecond={B_ALONG_SECOND} alongFirst={B_ALONG_FIRST}
        xs={B_X} tops={B_TOP} bottoms={B_BOTTOM} reds={B_RED} mids={B_MID}
        colors={{ red: "#7E0A00", orange: "#FF6600", green: "#3CF000" }} tip={B_TIP}
        points={B_POINTS} specks={B_SPECKS} words={B_WORDS} marks={B_MARKS}
      />
      <Contour
        left={580} top={500} width={585} height={465} yWidth={79} right={12} upper={27} xHeight={81}
        contours={B_CONTOURS} tint={B_TINT} labels={B_LABELS} xName="Glycerol" yName="Mineral" xTitleOffset={13} yDash="-"
      />

      <Surface
        top={1010} height={440} cam={C_CAM} wall={C_WALL} contours={C_CONTOURS} tint={C_TINT}
        alongSecond={C_ALONG_SECOND} alongFirst={C_ALONG_FIRST}
        xs={C_X} tops={C_TOP} bottoms={C_BOTTOM} reds={C_RED} mids={C_MID}
        colors={{ red: "#8C0606", orange: "#F99A12", green: "#14E014" }}
        points={C_POINTS} specks={C_SPECKS} words={C_WORDS}
      />
      <Contour
        left={580} top={980} width={583} height={465} yWidth={79} right={11} upper={28} xHeight={80}
        contours={C_CONTOURS} tint={C_TINT} labels={C_LABELS} xName="Soyptone" yName="Mineral" xTitleOffset={13} yDash="-"
      />
    </div>
  );
}
